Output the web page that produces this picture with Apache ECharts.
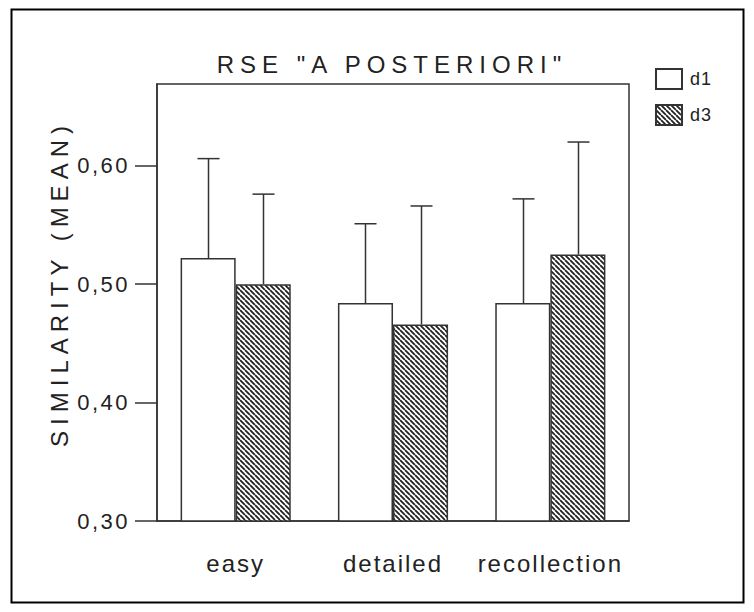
<!DOCTYPE html>
<html>
<head>
<meta charset="utf-8">
<script src="https://cdn.jsdelivr.net/npm/echarts@6/dist/echarts.min.js"></script>
<style>
  html, body { margin: 0; padding: 0; background: #fff; }
  #chart { width: 754px; height: 612px; }
</style>
</head>
<body>
<div id="chart"></div>
<script>
// Similarity means with upper error whiskers, per recall condition
const categories = ['easy', 'detailed', 'recollection'];
const seriesNames = ['d1', 'd3'];
const d1Mean = [0.522, 0.484, 0.484];
const d1Upper = [0.606, 0.551, 0.572];
const d3Mean = [0.500, 0.466, 0.525];
const d3Upper = [0.576, 0.566, 0.620];
const yTicks = [0.3, 0.4, 0.5, 0.6];

const titleText = 'RSE "A POSTERIORI"';
const yName = 'SIMILARITY (MEAN)';
const fmtTick = v => v.toFixed(2).replace('.', ',');

// diagonal hatch fill for the d3 bars
function hatchImage() {
  const s = 5;
  const c = document.createElement('canvas');
  c.width = s; c.height = s;
  const g = c.getContext('2d');
  g.fillStyle = '#fff';
  g.fillRect(0, 0, s, s);
  g.strokeStyle = '#222';
  g.lineWidth = 1.8;
  g.beginPath();
  for (let k = -s; k <= s; k += s) { g.moveTo(k, 0); g.lineTo(k + s, s); }
  g.stroke();
  return c.toDataURL();
}
const hatch = { image: hatchImage(), repeat: 'repeat' };

const INK = '#333';
const TEXT = '#222';
const FONT = 'Liberation Sans';
const BAR_FRACTION = 0.7;

function whiskers(side, means, uppers) {
  return {
    type: 'custom',
    z: 5,
    silent: true,
    data: categories.map((c, i) => [i, means[i], uppers[i]]),
    encode: { x: 0, y: [1, 2] },
    renderItem(params, api) {
      const band = api.size([1, 0])[0];
      const bw = band * BAR_FRACTION / 2;
      const base = api.coord([api.value(0), api.value(1)]);
      const top = api.coord([api.value(0), api.value(2)]);
      const x = Math.round(base[0] + side * bw / 2) + 0.5;
      const cap = 11;
      const st = { stroke: INK, lineWidth: 1.5 };
      return {
        type: 'group',
        children: [
          { type: 'line', shape: { x1: x, y1: base[1], x2: x, y2: top[1] }, style: st },
          { type: 'line', shape: { x1: x - cap, y1: top[1], x2: x + cap, y2: top[1] }, style: st }
        ]
      };
    }
  };
}

const chart = echarts.init(document.getElementById('chart'), null, { renderer: 'svg' });
chart.setOption({
  animation: false,
  backgroundColor: '#fff',
  textStyle: { fontFamily: FONT, color: TEXT },
  title: {
    text: titleText,
    left: 387,
    top: 47,
    textAlign: 'center',
    textStyle: { fontSize: 24, fontWeight: 'normal', color: TEXT, fontFamily: FONT }
  },
  legend: {
    orient: 'vertical',
    left: 650,
    top: 63,
    itemWidth: 26,
    itemHeight: 20,
    itemGap: 14,
    icon: 'rect',
    data: seriesNames,
    textStyle: { fontSize: 18, color: TEXT, padding: [0, 0, 0, 3] }
  },
  graphic: [{
    type: 'rect',
    left: 9, top: 7,
    shape: { width: 732, height: 593 },
    style: { fill: 'none', stroke: '#000', lineWidth: 2 },
    silent: true
  }],
  grid: {
    show: true,
    left: 157, right: 125, top: 84, bottom: 91,
    borderColor: INK, borderWidth: 1.5,
    backgroundColor: 'transparent'
  },
  xAxis: {
    type: 'category',
    data: categories,
    axisLine: { lineStyle: { color: INK, width: 1.5 } },
    axisTick: { alignWithLabel: true, interval: 0, length: 20, lineStyle: { color: INK, width: 1.5 } },
    axisLabel: { interval: 0, hideOverlap: false, margin: 30, fontSize: 24, color: TEXT }
  },
  yAxis: {
    type: 'value',
    min: 0.3,
    max: 0.669,
    interval: 0.1,
    name: yName,
    nameLocation: 'middle',
    nameGap: 86,
    nameRotate: 90,
    nameTextStyle: { fontSize: 24, color: TEXT, padding: [0, 0, 0, 38] },
    axisLine: { show: true, lineStyle: { color: INK, width: 1.5 } },
    axisTick: { show: true, length: 22, customValues: yTicks, lineStyle: { color: INK, width: 1.5 } },
    axisLabel: {
      customValues: yTicks,
      margin: 27,
      fontSize: 22,
      color: TEXT,
      formatter: fmtTick
    },
    splitLine: { show: false }
  },
  series: [
    {
      name: seriesNames[0], type: 'bar', data: d1Mean,
      barGap: '0%', barCategoryGap: '30%',
      itemStyle: { color: '#fff', borderColor: INK, borderWidth: 1.5 }
    },
    {
      name: seriesNames[1], type: 'bar', data: d3Mean,
      barGap: '0%', barCategoryGap: '30%',
      itemStyle: { color: hatch, borderColor: INK, borderWidth: 1.5 }
    },
    whiskers(-1, d1Mean, d1Upper),
    whiskers(1, d3Mean, d3Upper)
  ]
});

// widely tracked lettering, per text element
const tracking = new Map();
tracking.set(titleText, 6);
tracking.set(yName, 6);
categories.forEach(c => tracking.set(c, 2));
yTicks.forEach(v => tracking.set(fmtTick(v), 2.5));
seriesNames.forEach(n => tracking.set(n, 1));
function applyTracking() {
  chart.getDom().querySelectorAll('text').forEach(t => {
    const s = tracking.get(t.textContent);
    if (s != null) t.style.letterSpacing = s + 'px';
  });
}
applyTracking();
chart.on('finished', applyTracking);
</script>
</body>
</html>
